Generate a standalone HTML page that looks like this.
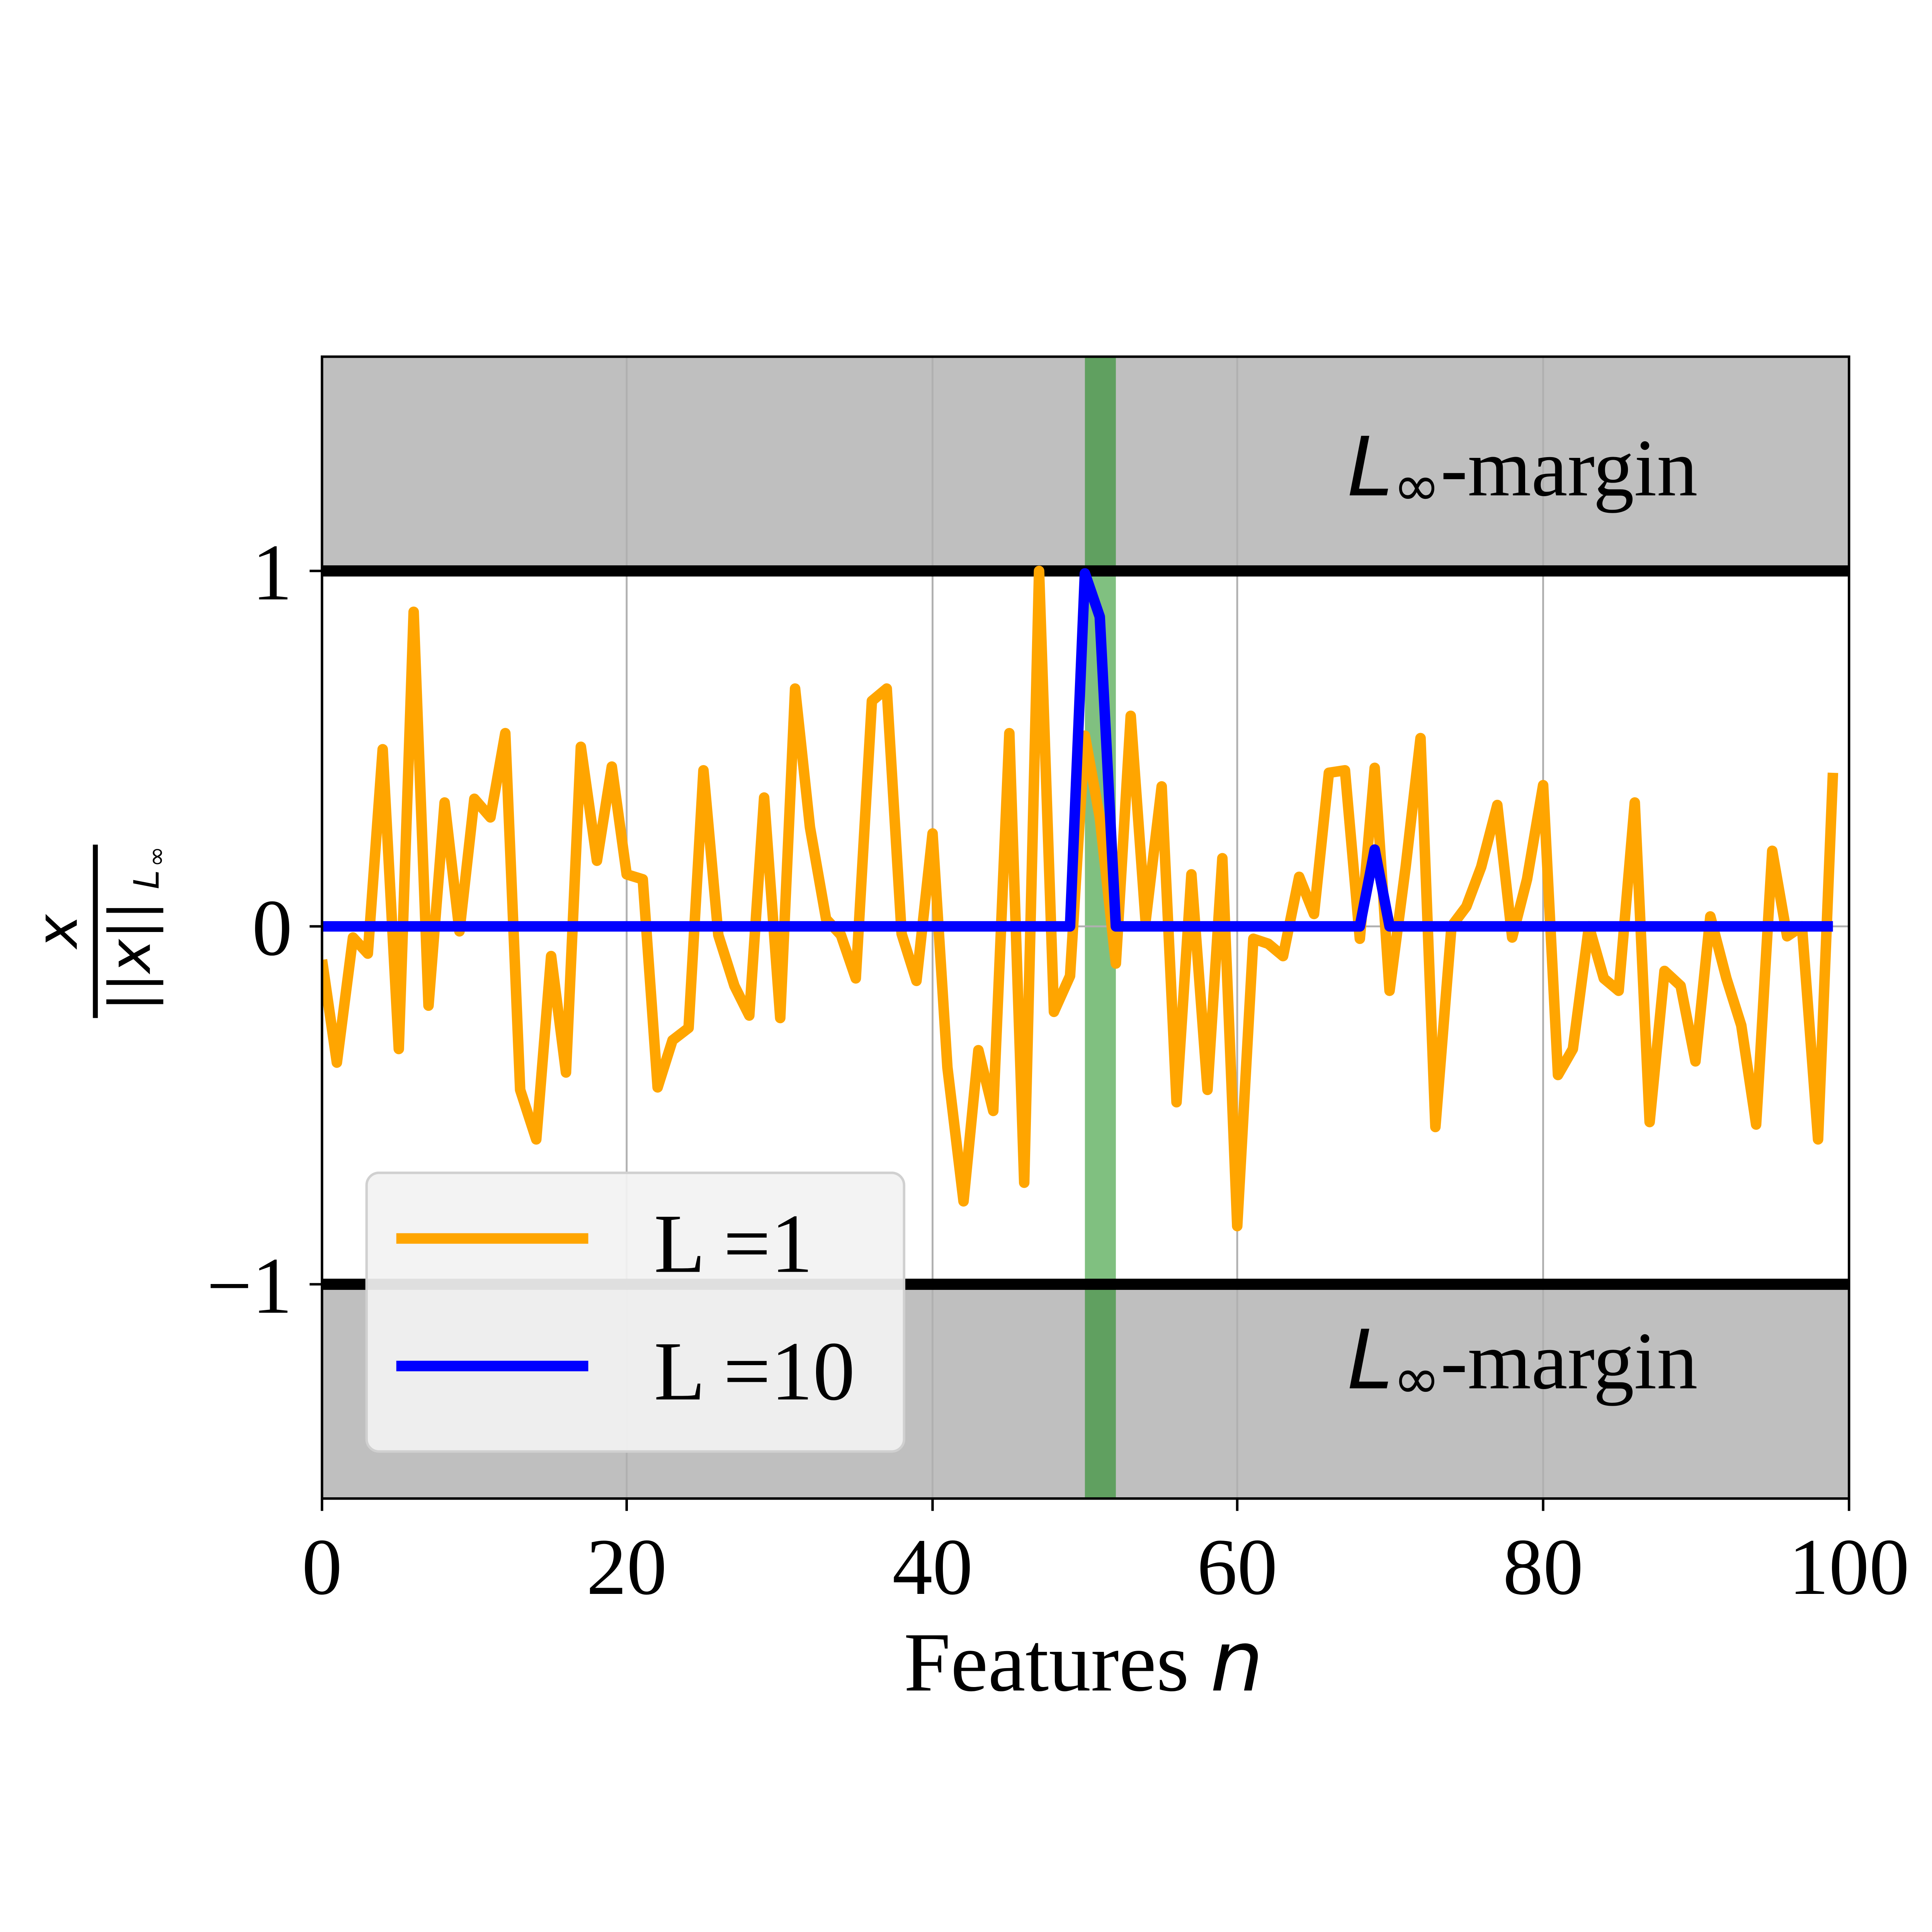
<!DOCTYPE html>
<html><head><style>html,body{margin:0;padding:0;background:#fff;overflow:hidden;width:100%;height:100%}svg{display:block;width:100vw;height:100vh}</style></head>
<body>
<svg xmlns="http://www.w3.org/2000/svg" viewBox="0 0 1560 1560" preserveAspectRatio="xMidYMid meet">
<defs><clipPath id="c"><rect x="260" y="288" width="1233" height="922"/></clipPath></defs>
<rect width="1560" height="1560" fill="#fff"/>
<g clip-path="url(#c)">
<rect x="260" y="288" width="1233" height="173" fill="#bfbfbf"/>
<rect x="260" y="1037" width="1233" height="173" fill="#bfbfbf"/>
<rect x="876" y="461" width="25" height="576" fill="#80c080"/>
<rect x="876" y="288" width="25" height="173" fill="#60a060"/>
<rect x="876" y="1037" width="25" height="173" fill="#60a060"/>
<g stroke="#b0b0b0" stroke-width="1.5">
<line x1="506" y1="288" x2="506" y2="1210"/><line x1="753" y1="288" x2="753" y2="1210"/>
<line x1="999" y1="288" x2="999" y2="1210"/><line x1="1246" y1="288" x2="1246" y2="1210"/>
<line x1="260" y1="748" x2="1493" y2="748"/>
</g>
<line x1="260" y1="461" x2="1493" y2="461" stroke="#000" stroke-width="9"/>
<line x1="260" y1="1037" x2="1493" y2="1037" stroke="#000" stroke-width="9"/>
<polyline fill="none" stroke="#ffa500" stroke-width="8.5" stroke-linejoin="round" points="260,775 272,858 285,757 297,770 309,605 322,847 334,494 346,812 359,648 371,752 383,645 396,660 408,592 420,880 433,920 445,772 457,866 469,603 482,695 494,619 506,706 519,710 531,878 543,840 556,830 568,622 580,755 593,796 605,820 617,644 630,822 642,556 654,668 667,742 679,755 691,790 704,566 716,556 728,754 740,792 753,673 765,862 778,970 790,848 802,897 815,592 827,955 839,461 851,817 864,788 876,594 888,660 901,778 913,578 925,744 938,635 950,890 962,706 975,880 987,693 999,990 1012,758 1024,762 1036,772 1049,708 1061,738 1073,624 1086,622 1098,758 1110,620 1122,800 1135,700 1147,596 1159,910 1172,748 1184,732 1196,700 1209,650 1221,757 1233,710 1246,634 1258,868 1270,847 1283,748 1295,790 1307,800 1320,648 1332,906 1344,784 1357,796 1369,857 1381,740 1394,790 1406,828 1418,908 1431,687 1443,756 1455,748 1468,920 1480,624"/>
<polyline fill="none" stroke="#0000ff" stroke-width="8.5" stroke-linejoin="round" points="260,748 864,748 876,463 888,498 901,748 1098,748 1110,686 1122,748 1480,748"/>
</g>
<rect x="260" y="288" width="1233" height="922" fill="none" stroke="#000" stroke-width="2"/>
<g stroke="#000" stroke-width="2">
<line x1="260" y1="1210" x2="260" y2="1220"/><line x1="506" y1="1210" x2="506" y2="1220"/><line x1="753" y1="1210" x2="753" y2="1220"/><line x1="999" y1="1210" x2="999" y2="1220"/><line x1="1246" y1="1210" x2="1246" y2="1220"/><line x1="1493" y1="1210" x2="1493" y2="1220"/>
<line x1="250" y1="461" x2="260" y2="461"/><line x1="250" y1="748" x2="260" y2="748"/><line x1="250" y1="1037" x2="260" y2="1037"/>
</g>
<g font-family="Liberation Serif, serif" font-size="65" fill="#000">
<g text-anchor="middle">
<text x="260" y="1287">0</text><text x="506" y="1287">20</text><text x="753" y="1287">40</text><text x="999" y="1287">60</text><text x="1246" y="1287">80</text><text x="1493" y="1287">100</text>
</g>
<g text-anchor="end">
<text x="236" y="484">1</text><text x="236" y="771">0</text><text x="236" y="1060">−1</text>
</g>
<text x="875" y="1365" text-anchor="middle" font-size="68">Features <tspan font-family="DejaVu Sans, sans-serif" font-style="italic">n</tspan></text>
<text x="1088" y="400" font-size="66"><tspan font-family="DejaVu Sans, sans-serif" font-style="italic">L</tspan><tspan font-family="DejaVu Sans, sans-serif" font-size="46" dy="8">∞</tspan><tspan dy="-8">-margin</tspan></text>
<text x="1088" y="1121" font-size="66"><tspan font-family="DejaVu Sans, sans-serif" font-style="italic">L</tspan><tspan font-family="DejaVu Sans, sans-serif" font-size="46" dy="8">∞</tspan><tspan dy="-8">-margin</tspan></text>
</g>
<g transform="translate(0,752) rotate(-90)" font-family="DejaVu Sans, sans-serif" fill="#000">
<text x="0" y="62" text-anchor="middle" font-size="46" font-style="italic">x</text>
<rect x="-70" y="75" width="140" height="4"/>
<text x="-20" y="121" text-anchor="middle" font-size="46">||<tspan font-style="italic">x</tspan>||</text>
<text x="34" y="128" font-size="28" font-style="italic">L</text>
<text x="52" y="133" font-size="20">∞</text>
</g>
<rect x="296" y="947" width="434" height="225" rx="10" fill="#f2f2f2" fill-opacity="0.92" stroke="#d0d0d0" stroke-width="2"/>
<line x1="320" y1="1000" x2="475" y2="1000" stroke="#ffa500" stroke-width="8.5"/>
<line x1="320" y1="1103" x2="475" y2="1103" stroke="#0000ff" stroke-width="8.5"/>
<g font-family="Liberation Serif, serif" font-size="68" fill="#000">
<text x="528" y="1027">L =1</text>
<text x="528" y="1130">L =10</text>
</g>
</svg>
</body></html>
